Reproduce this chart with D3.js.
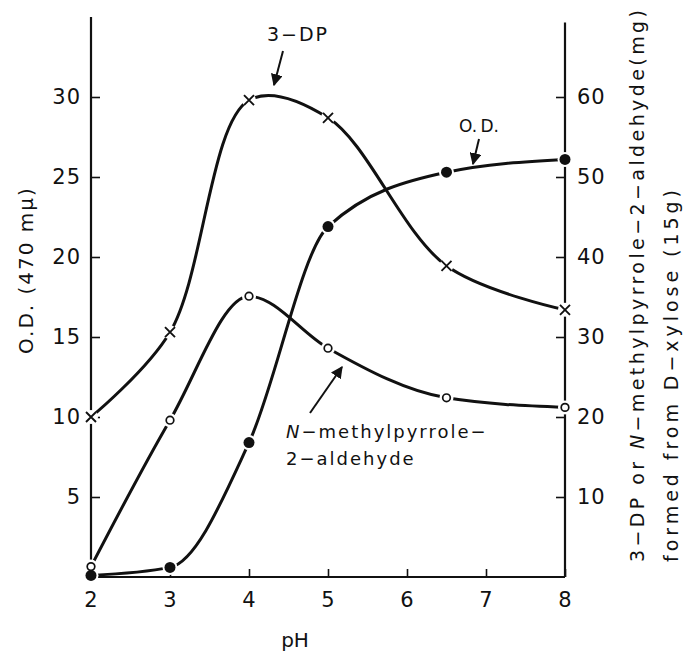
<!DOCTYPE html>
<html>
<head>
<meta charset="utf-8">
<script src="https://cdn.jsdelivr.net/npm/d3@7"></script>
<style>
  body { margin: 0; background: #fff; }
  text { font-family: "DejaVu Sans", sans-serif; fill: #111; }
</style>
</head>
<body>
<script>
// pH values (x axis)
var ph = [2, 3, 4, 5, 6.5, 8];
// O.D. at 470 m\u03bc (left axis)
var od = [0.1, 0.6, 8.4, 21.9, 25.3, 26.1];
// 3-DP formed, mg (right axis)
var dp3 = [20, 30.6, 59.6, 57.4, 38.9, 33.4];
// N-methylpyrrole-2-aldehyde formed, mg (right axis)
var nmp = [1.3, 19.6, 35.1, 28.6, 22.4, 21.2];

var xTicks = [2, 3, 4, 5, 6, 7, 8];
var leftTicks = [5, 10, 15, 20, 25, 30];
var rightTicks = [10, 20, 30, 40, 50, 60];

var width = 688, height = 654;
var svg = d3.select("body").append("svg")
  .attr("width", width).attr("height", height);

var x = d3.scaleLinear().domain([2, 8]).range([91, 565]);
var yL = d3.scaleLinear().domain([0, 35]).range([577, 17]);
var yR = d3.scaleLinear().domain([0, 70]).range([577, 17]);

// axes
var gx = svg.append("g").attr("transform", "translate(0,577)")
  .call(d3.axisBottom(x).tickValues(xTicks).tickSize(-8).tickPadding(15).tickFormat(d3.format("d")));
var gl = svg.append("g").attr("transform", "translate(91,0)")
  .call(d3.axisLeft(yL).tickValues(leftTicks).tickSize(-9).tickPadding(10));
var gr = svg.append("g").attr("transform", "translate(565,0)")
  .call(d3.axisRight(yR).tickValues(rightTicks).tickSize(-9).tickPadding(12));

[gx, gl, gr].forEach(function(g) {
  g.select(".domain").remove();
  g.selectAll(".tick line").attr("stroke", "#111").attr("stroke-width", 1.6);
  g.selectAll(".tick text").style("font-size", "21px").attr("fill", "#111")
    .style("letter-spacing", "1px");
});

svg.append("line").attr("x1", 91).attr("x2", 91).attr("y1", yL(0)).attr("y2", yL(35))
  .attr("stroke", "#111").attr("stroke-width", 2.2);
svg.append("line").attr("x1", 565).attr("x2", 565).attr("y1", yR(0)).attr("y2", yR(69.3))
  .attr("stroke", "#111").attr("stroke-width", 2.2);
svg.append("line").attr("x1", 91).attr("x2", 565).attr("y1", yL(0)).attr("y2", yL(0))
  .attr("stroke", "#111").attr("stroke-width", 2.2);

// curves
var series = [
  { vals: od, y: yL, curve: d3.curveMonotoneX, mark: "dot" },
  { vals: dp3, y: yR, curve: d3.curveCatmullRom.alpha(0.5), mark: "cross" },
  { vals: nmp, y: yR, curve: d3.curveMonotoneX, mark: "ring" }
];

series.forEach(function(s) {
  var pts = ph.map(function(p, i) { return [x(p), s.y(s.vals[i])]; });
  svg.append("path")
    .attr("d", d3.line().curve(s.curve)(pts))
    .attr("fill", "none").attr("stroke", "#111").attr("stroke-width", 3);
});

// white gaps around markers, then markers
series.forEach(function(s) {
  var pts = ph.map(function(p, i) { return [x(p), s.y(s.vals[i])]; });
  svg.selectAll(null).data(pts).enter().append("circle")
    .attr("cx", function(d) { return d[0]; }).attr("cy", function(d) { return d[1]; })
    .attr("r", s.mark == "dot" ? 7.5 : 7).attr("fill", "#fff");
});
series.forEach(function(s) {
  var pts = ph.map(function(p, i) { return [x(p), s.y(s.vals[i])]; });
  var g = svg.append("g");
  pts.forEach(function(d) {
    if (s.mark == "dot") {
      g.append("circle").attr("cx", d[0]).attr("cy", d[1]).attr("r", 5.5).attr("fill", "#111");
    } else if (s.mark == "ring") {
      g.append("circle").attr("cx", d[0]).attr("cy", d[1]).attr("r", 3.8)
        .attr("fill", "#fff").attr("stroke", "#111").attr("stroke-width", 1.7);
    } else {
      g.append("path").attr("d", "M" + (d[0] - 5) + "," + (d[1] - 5) + "l10,10M" + (d[0] + 5) + "," + (d[1] - 5) + "l-10,10")
        .attr("stroke", "#111").attr("stroke-width", 1.9);
    }
  });
});

// arrows
svg.append("defs").append("marker").attr("id", "ah")
  .attr("viewBox", "0 0 10 10").attr("refX", 9).attr("refY", 5)
  .attr("markerWidth", 6).attr("markerHeight", 6).attr("orient", "auto")
  .append("path").attr("d", "M0,0L10,5L0,10z").attr("fill", "#111");

function arrow(x1, y1, x2, y2) {
  svg.append("line").attr("x1", x1).attr("y1", y1).attr("x2", x2).attr("y2", y2)
    .attr("stroke", "#111").attr("stroke-width", 2).attr("marker-end", "url(#ah)");
}
arrow(283, 51, 274, 85);
arrow(479, 139, 473, 164);
arrow(310, 413, 342, 367);

// annotations
svg.append("text").attr("x", 298).attr("y", 41).attr("text-anchor", "middle")
  .style("font-size", "19px").style("letter-spacing", "2px").text("3\u2212DP");
svg.append("text").attr("x", 479).attr("y", 132).attr("text-anchor", "middle")
  .style("font-size", "17px").text("O.\u2009D.");
var t1 = svg.append("text").attr("x", 286).attr("y", 438).style("font-size", "18px").style("letter-spacing", "2px");
t1.append("tspan").style("font-style", "italic").text("N");
t1.append("tspan").text("\u2212methylpyrrole\u2212");
svg.append("text").attr("x", 286).attr("y", 465).style("font-size", "18px").style("letter-spacing", "2px")
  .text("2\u2212aldehyde");

// axis titles
svg.append("text").attr("x", 295).attr("y", 647).attr("text-anchor", "middle")
  .style("font-size", "20px").text("pH");
svg.append("text").attr("transform", "translate(33,270) rotate(-90)").attr("text-anchor", "middle")
  .style("font-size", "20px").style("letter-spacing", "2px").text("O.D. (470 m\u03bc)");

var r1 = svg.append("text").attr("transform", "translate(644,562) rotate(-90)")
  .style("font-size", "19px").attr("textLength", 552).attr("lengthAdjust", "spacing");
r1.append("tspan").text("3\u2212DP or ");
r1.append("tspan").style("font-style", "italic").text("N");
r1.append("tspan").text("\u2212methylpyrrole\u22122\u2212aldehyde(mg)");
svg.append("text").attr("transform", "translate(678,562) rotate(-90)")
  .style("font-size", "19px").attr("textLength", 372).attr("lengthAdjust", "spacing")
  .text("formed  from  D\u2212xylose (15g)");
</script>
</body>
</html>
